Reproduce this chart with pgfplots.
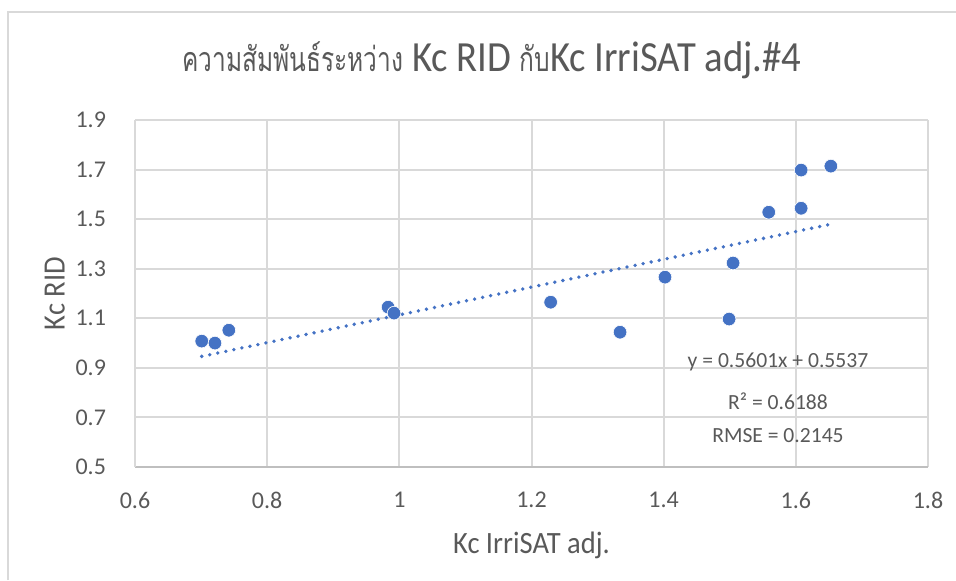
\documentclass[border=0pt]{standalone}
\usepackage{pgfplots}
\pgfplotsset{compat=1.18}
\usepackage{fontspec}
\setmainfont{Carlito}
\newfontfamily\titlefont[FakeStretch=0.9]{Carlito}
\newfontfamily\labelfont[FakeStretch=0.92]{Carlito}
\newfontfamily\thaifont[Script=Thai, FakeStretch=0.72]{Loma}
\definecolor{txtgray}{HTML}{595959}
\definecolor{gridgray}{HTML}{D9D9D9}
\definecolor{axisgray}{HTML}{BFBFBF}
\definecolor{ptblue}{HTML}{4472C4}

\pgfplotstableread{
x y
0.701 1.008
0.721 1.000
0.742 1.052
0.983 1.145
0.992 1.121
1.229 1.165
1.334 1.044
1.402 1.266
1.499 1.097
1.505 1.323
1.559 1.528
1.608 1.544
1.608 1.698
1.653 1.714
}\kcdata

% linear trend y = 0.5601x + 0.5537 over the data range
\pgfplotstableread{
x y
0.701 0.9463
1.653 1.4796
}\trend

\begin{document}
\begin{tikzpicture}
\useasboundingbox (0pt,0pt) rectangle (478pt,290pt);
% chart-area frame
\draw[gridgray, line width=1pt] (4pt,0pt) -- (4pt,284pt) -- (478pt,284pt);
% title
\node[txtgray, anchor=center] at (246pt,260pt)
  {\titlefont\fontsize{21.5}{24}\selectfont{\thaifont\fontsize{17}{20}\selectfont ความสัมพันธ์ระหว่าง} Kc RID {\thaifont\fontsize{17}{20}\selectfont กับ}Kc IrriSAT adj.\#4};
\begin{axis}[
  at={(67.5pt,56.5pt)}, anchor=south west,
  scale only axis, width=396.5pt, height=173.5pt,
  xmin=0.6, xmax=1.8, ymin=0.5, ymax=1.9,
  xtick={0.6,0.8,...,1.81}, ytick={0.5,0.7,...,1.91},
  /pgf/number format/assume math mode=true,
  yticklabel style={/pgf/number format/fixed, /pgf/number format/precision=1, /pgf/number format/fixed zerofill},
  grid=major,
  major grid style={gridgray, line width=1pt},
  major tick length=0pt,
  axis line style={draw=none},
  axis x line*=bottom, axis y line*=left,
  tick label style={txtgray, font=\fontsize{12}{14}\selectfont},
  xticklabel style={anchor=center, yshift=-16.5pt},
  yticklabel style={anchor=east, xshift=-11pt},
  xlabel={Kc IrriSAT adj.},
  ylabel={Kc RID},
  label style={txtgray, font=\labelfont\fontsize{15.5}{18}\selectfont},
  xlabel style={at={(axis description cs:0.5,-0.225)}, anchor=center},
  ylabel style={at={(axis description cs:-0.101,0.5)}, anchor=center},
  clip=false,
]
\draw[axisgray, line width=1pt] (axis cs:0.6,0.5) -- (axis cs:1.8,0.5);
\draw[gridgray, line width=1pt] (axis cs:0.6,0.5) -- (axis cs:0.6,1.9);
\addplot[ptblue, line width=1.9pt, line cap=round, dash pattern=on 0pt off 4.1pt] table {\trend};
\addplot[only marks, mark=*, mark size=3.4pt, mark options={fill=ptblue, draw=white, line width=0.3pt}] table {\kcdata};
\node[txtgray, font=\fontsize{10.8}{13}\selectfont] at (axis cs:1.573,0.923) {y = 0.5601x + 0.5537};
\node[txtgray, font=\fontsize{10.8}{13}\selectfont] at (axis cs:1.573,0.766) {R² = 0.6188};
\node[txtgray, font=\fontsize{10.8}{13}\selectfont] at (axis cs:1.573,0.625) {RMSE = 0.2145};
\end{axis}
\end{tikzpicture}
\end{document}
